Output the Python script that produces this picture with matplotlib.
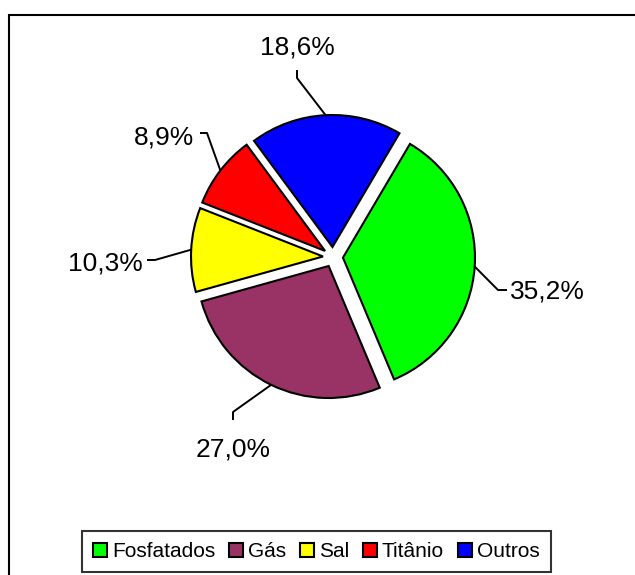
import matplotlib.pyplot as plt
import numpy as np
from matplotlib.patches import Patch, Rectangle

plt.rcParams['font.family'] = ['Liberation Sans', 'DejaVu Sans']

categories = ["Fosfatados", "Gás", "Sal", "Titânio", "Outros"]
shares = [35.2, 27.0, 10.3, 8.9, 18.6]
colors = ["#00FF00", "#993366", "#FFFF00", "#FF0000", "#0000FF"]

# label layout in pixels (x, y from top): elbow, end of leader, text anchor
elbows = [(498, 290), (233, 412), (155, 260), (207, 133), (297, 78)]
ends = [(507, 290), (233, 420), (147, 260), (200, 133), (297, 70)]
texts = [(510, 292, "left"), (233, 449, "center"), (143, 263, "right"),
         (194, 138, "right"), (297, 47, "center")]

W, H = 635, 575
fig = plt.figure(figsize=(W / 100, H / 100), dpi=100)
ax = fig.add_axes([0, 0, 1, 1])

wedges, _ = ax.pie(shares, colors=colors, startangle=59.5, counterclock=False,
                   center=(333, H - 257), radius=132, explode=[10] * 5,
                   wedgeprops=dict(edgecolor="black", linewidth=1.5))
ax.set_xlim(0, W)
ax.set_ylim(0, H)
ax.set_aspect("auto")
ax.axis("off")

# outer chart frame (left and top edges visible)
ax.add_patch(Rectangle((9, -20), 700, H - 15 + 20, fill=False,
                       edgecolor="black", linewidth=1.5, clip_on=False))

for w, v, el, en, (tx, ty, ha) in zip(wedges, shares, elbows, ends, texts):
    mid = np.deg2rad((w.theta1 + w.theta2) / 2)
    cx, cy = w.center
    px, py = cx + w.r * np.cos(mid), cy + w.r * np.sin(mid)
    ax.plot([px, el[0], en[0]], [py, H - el[1], H - en[1]],
            color="black", linewidth=1.4, solid_capstyle="butt")
    ax.text(tx, H - ty, f"{v:.1f}%".replace(".", ","), ha=ha, va="center",
            fontsize=19)

handles = [Patch(facecolor=c, edgecolor="black", linewidth=1.5) for c in colors]
leg = fig.legend(handles, categories, loc="center", ncol=5,
                 bbox_to_anchor=(316.5 / W, (H - 551.5) / H), fontsize=15,
                 frameon=True, fancybox=False, edgecolor="black",
                 handlelength=0.65, handleheight=0.65, handletextpad=0.25,
                 columnspacing=0.67, borderpad=0.55, borderaxespad=0)
leg.get_frame().set_linewidth(1.5)

fig.savefig("out.png", dpi=100)
